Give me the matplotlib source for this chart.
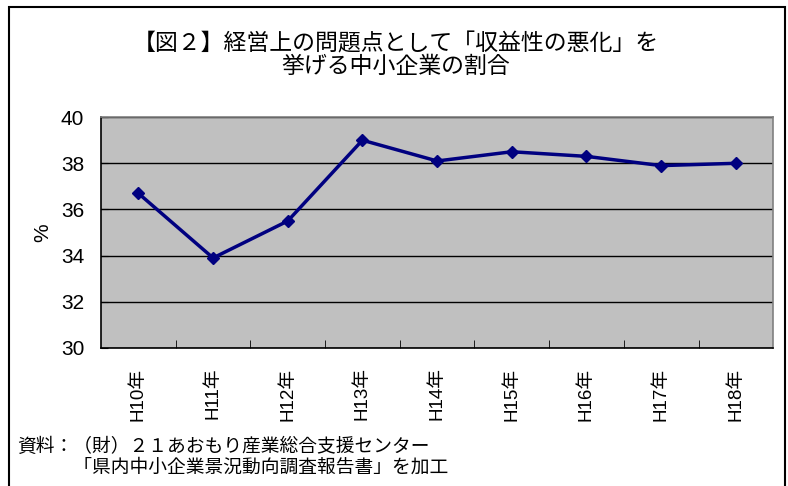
import matplotlib.pyplot as plt
from matplotlib.patches import Rectangle

# Data
years = ["H10年", "H11年", "H12年", "H13年", "H14年", "H15年", "H16年", "H17年", "H18年"]
rates = [36.7, 33.9, 35.5, 39.0, 38.1, 38.5, 38.3, 37.9, 38.0]
y_ticks = [30, 32, 34, 36, 38, 40]

title = "【図２】経営上の問題点として「収益性の悪化」を\n挙げる中小企業の割合"
note = "資料：（財）２１あおもり産業総合支援センター\n　　　「県内中小企業景況動向調査報告書」を加工"

jp = ["Noto Sans CJK JP", "DejaVu Sans"]
num = ["Liberation Sans", "Noto Sans CJK JP"]

fig = plt.figure(figsize=(7.88, 4.86), dpi=100)

# Outer border of the chart area
fig.patches.append(Rectangle((0.0114, -0.05), 0.9846, 1.0356, transform=fig.transFigure,
                             fill=False, edgecolor="black", linewidth=1.5))

ax = fig.add_axes([0.1282, 0.284, 0.853, 0.475])
ax.set_facecolor("#c0c0c0")

x = range(len(years))
ax.plot(x, rates, color="#000080", linewidth=2.5, marker="D", markersize=6,
        zorder=3)

ax.set_xlim(-0.5, len(years) - 0.5)
ax.set_ylim(30, 40)
ax.set_yticks(y_ticks)
ax.set_yticklabels([str(v) for v in y_ticks], family=num, fontsize=15)
ax.set_xticks(list(x))
ax.set_xticklabels(years, rotation=90, family=num, fontsize=13.5)
ax.tick_params(axis="x", which="major", length=0, pad=14)
# boundary ticks between categories
ax.set_xticks([i + 0.5 for i in range(len(years) - 1)], minor=True)
ax.tick_params(axis="x", which="minor", direction="in", length=6, color="black")
ax.tick_params(axis="y", direction="in", length=5, pad=12)

ax.grid(axis="y", color="black", linewidth=1)
ax.set_axisbelow(True)
for s in ax.spines.values():
    s.set_color("#808080")
    s.set_linewidth(1.2)
ax.spines["bottom"].set_color("black")
ax.spines["left"].set_color("black")

ax.set_ylabel("%", family=num, fontsize=15, labelpad=6)

fig.text(0.502, 0.886, title, ha="center", va="center", family=jp, fontsize=16.5,
         linespacing=1.0)
fig.text(0.022, 0.06, note, ha="left", va="center", family=jp, fontsize=13.5,
         linespacing=1.0)

fig.savefig("out.png", dpi=100)
